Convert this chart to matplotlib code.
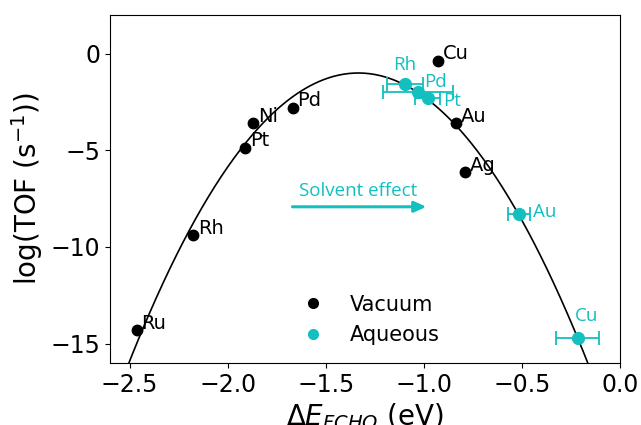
import matplotlib
matplotlib.use("Agg")
import matplotlib.pyplot as plt
from matplotlib.lines import Line2D
import numpy as np

CYAN = "#13BFBF"

# vacuum results (black)
vac_metals = ["Ru", "Rh", "Pt", "Ni", "Pd", "Cu", "Au", "Ag"]
vac_dE = [-2.464, -2.178, -1.912, -1.870, -1.669, -0.930, -0.836, -0.791]
vac_logtof = [-14.30, -9.38, -4.86, -3.60, -2.80, -0.36, -3.59, -6.12]

# aqueous results (cyan) with horizontal error bars
aq_metals = ["Rh", "Pd", "Pt", "Au", "Cu"]
aq_dE = [-1.096, -1.030, -0.981, -0.515, -0.215]
aq_logtof = [-1.57, -1.98, -2.29, -8.29, -14.73]
aq_err = [0.09, 0.18, 0.065, 0.055, 0.11]

# volcano fit: log(TOF) = peak - curv * (dE - dE0)^2
fit_dE0 = -1.334
fit_peak = -1.0
fit_curv = 10.96

# label placement (points offset, horizontal alignment)
vac_offsets = {m: ((3.5, 5), "left") for m in vac_metals}
aq_offsets = {
    "Rh": ((0, 14), "center"),
    "Pd": ((4.3, 7.5), "left"),
    "Pt": ((11, -2), "left"),
    "Au": ((10, 1.5), "left"),
    "Cu": ((6, 16.5), "center"),
}

fig = plt.figure(figsize=(6.41, 4.25), dpi=100)
ax = fig.add_axes([110 / 641, 1 - 363 / 425, 510 / 641, 348 / 425])

xs = np.linspace(-2.6, 0.0, 400)
ax.plot(xs, fit_peak - fit_curv * (xs - fit_dE0) ** 2, color="black", lw=1.2, zorder=1)

ax.plot(vac_dE, vac_logtof, "o", color="black", ms=7.5, zorder=3)
ax.errorbar(aq_dE, aq_logtof, xerr=aq_err, fmt="o", color=CYAN, ms=8.5,
            elinewidth=1.3, capsize=5, capthick=1.3, zorder=4)

for m, x, y in zip(vac_metals, vac_dE, vac_logtof):
    off, ha = vac_offsets[m]
    ax.annotate(m, (x, y), xytext=off, textcoords="offset points",
                ha=ha, va="center", fontsize=14, color="black")

for m, x, y in zip(aq_metals, aq_dE, aq_logtof):
    off, ha = aq_offsets[m]
    ax.annotate(m, (x, y), xytext=off, textcoords="offset points",
                ha=ha, va="center", fontsize=13.5, color=CYAN,
                family="Open Sans")

# solvent effect arrow
ax.annotate("", xy=(-0.987, -7.92), xytext=(-1.670, -7.92),
            arrowprops=dict(arrowstyle="-|>,head_length=0.4,head_width=0.18",
                            color=CYAN, lw=2.2, mutation_scale=18,
                            shrinkA=0, shrinkB=0))
ax.text(-1.336, -7.09, "Solvent effect", color=CYAN, fontsize=13.5,
        family="Open Sans", ha="center", va="center")

handles = [
    Line2D([], [], marker="o", ls="", color="black", ms=7),
    Line2D([], [], marker="o", ls="", color=CYAN, ms=7),
]
ax.legend(handles, ["Vacuum", "Aqueous"], loc="center",
          bbox_to_anchor=(0.502, 0.124), frameon=False, fontsize=15,
          handletextpad=0.8)

ax.set_xlim(-2.6, 0.0)
ax.set_ylim(-16, 2)
ax.set_xticks([-2.5, -2.0, -1.5, -1.0, -0.5, 0.0])
ax.set_yticks([0, -5, -10, -15])
ax.tick_params(labelsize=17)
ax.set_xlabel(r"$\Delta E_{FCHO}$ (eV)", fontsize=20, labelpad=3)
ax.set_ylabel(r"log(TOF (s$^{-1}$))", fontsize=20)

fig.savefig("out.png", dpi=100)
